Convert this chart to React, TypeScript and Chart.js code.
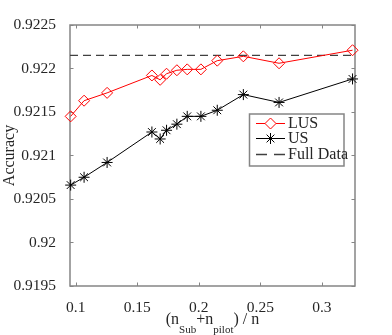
import React, { useEffect, useRef } from 'react';
import { Chart, registerables } from 'chart.js';

Chart.register(...registerables);

const xValues = [0.0959, 0.1068, 0.1255, 0.1619, 0.1686, 0.1738, 0.1822, 0.1906, 0.2017, 0.2150, 0.2362, 0.2652, 0.3249];
const lusValues = [0.92145, 0.92163, 0.92172, 0.92192, 0.92187, 0.92194, 0.92198, 0.92199, 0.92199, 0.92209, 0.92214, 0.92206, 0.92221];
const usValues = [0.92066, 0.92075, 0.92092, 0.92127, 0.92119, 0.92129, 0.92136, 0.92145, 0.92145, 0.92152, 0.9217, 0.92161, 0.92188];
const fullDataValue = 0.92215;
const xTicks = [0.1, 0.15, 0.2, 0.25, 0.3];
const yTicks = [0.9195, 0.92, 0.9205, 0.921, 0.9215, 0.922, 0.9225];
const xRange = [0.09536, 0.3269];
const yRange = [0.9195, 0.9225];
const seriesLabels = ['LUS', 'US', 'Full Data'];
const yTitle = 'Accuracy';

const FONT = "'Liberation Serif', 'Times New Roman', serif";
const AXIS_COLOR = '#858585';
const TEXT_COLOR = '#262626';
const LUS_COLOR = '#ff0000';
const US_COLOR = '#000000';
const FULL_COLOR = '#404040';

function drawDiamond(ctx: CanvasRenderingContext2D, x: number, y: number, r: number) {
  ctx.beginPath();
  ctx.moveTo(x - r, y);
  ctx.lineTo(x, y - r);
  ctx.lineTo(x + r, y);
  ctx.lineTo(x, y + r);
  ctx.closePath();
  ctx.fill();
  ctx.stroke();
}

function drawStar(ctx: CanvasRenderingContext2D, x: number, y: number, r: number) {
  const d = r * Math.SQRT1_2;
  ctx.beginPath();
  ctx.moveTo(x - r, y); ctx.lineTo(x + r, y);
  ctx.moveTo(x, y - r); ctx.lineTo(x, y + r);
  ctx.moveTo(x - d, y - d); ctx.lineTo(x + d, y + d);
  ctx.moveTo(x - d, y + d); ctx.lineTo(x + d, y - d);
  ctx.stroke();
}

const framePlugin = {
  id: 'frame',
  beforeDatasetsDraw(chart: any) {
    const { ctx, chartArea: a, scales } = chart;
    ctx.save();
    ctx.strokeStyle = AXIS_COLOR;
    ctx.lineWidth = 1.5;
    ctx.strokeRect(a.left, a.top, a.right - a.left, a.bottom - a.top);
    ctx.lineWidth = 1;
    const tl = 3.5;
    ctx.beginPath();
    xTicks.forEach((v) => {
      const px = Math.round(scales.x.getPixelForValue(v)) + 0.5;
      ctx.moveTo(px, a.bottom); ctx.lineTo(px, a.bottom - tl);
      ctx.moveTo(px, a.top); ctx.lineTo(px, a.top + tl);
    });
    yTicks.forEach((v) => {
      const py = Math.round(scales.y.getPixelForValue(v)) + 0.5;
      ctx.moveTo(a.left, py); ctx.lineTo(a.left + tl, py);
      ctx.moveTo(a.right, py); ctx.lineTo(a.right - tl, py);
    });
    ctx.stroke();
    ctx.restore();
  },
  afterDraw(chart: any) {
    const { ctx, chartArea: a } = chart;
    ctx.save();
    // x axis title with subscripts
    const mainFont = `16px ${FONT}`;
    const subFont = `11px ${FONT}`;
    const parts: [string, boolean][] = [['(n', false], ['Sub', true], ['+n', false], ['pilot', true], [') / n', false]];
    let total = 0;
    const widths = parts.map(([t, sub]) => {
      ctx.font = sub ? subFont : mainFont;
      const w = ctx.measureText(t).width;
      total += w;
      return w;
    });
    let x = (a.left + a.right) / 2 - total / 2;
    ctx.fillStyle = TEXT_COLOR;
    ctx.textBaseline = 'alphabetic';
    ctx.textAlign = 'left';
    parts.forEach(([t, sub], i) => {
      ctx.font = sub ? subFont : mainFont;
      ctx.fillText(t, x, sub ? 333 : 324);
      x += widths[i];
    });

    // legend
    const bx = 249.5, by = 114, bw = 94.5, bh = 52;
    ctx.fillStyle = '#ffffff';
    ctx.fillRect(bx, by, bw, bh);
    ctx.strokeStyle = AXIS_COLOR;
    ctx.lineWidth = 1.5;
    ctx.strokeRect(bx, by, bw, bh);
    const rows = [123.5, 138.5, 154.5];
    const x0 = 256, x1 = 285, xm = 270.5;
    ctx.lineWidth = 1;
    // LUS
    ctx.strokeStyle = LUS_COLOR;
    ctx.beginPath(); ctx.moveTo(x0, rows[0]); ctx.lineTo(x1, rows[0]); ctx.stroke();
    ctx.fillStyle = '#ffffff';
    drawDiamond(ctx, xm, rows[0], 5.5);
    // US
    ctx.strokeStyle = US_COLOR;
    ctx.beginPath(); ctx.moveTo(x0, rows[1]); ctx.lineTo(x1, rows[1]); ctx.stroke();
    drawStar(ctx, xm, rows[1], 5.5);
    // Full
    ctx.strokeStyle = FULL_COLOR;
    ctx.lineWidth = 1.3;
    ctx.setLineDash([11, 7]);
    ctx.beginPath(); ctx.moveTo(x0, rows[2]); ctx.lineTo(x1, rows[2]); ctx.stroke();
    ctx.setLineDash([]);
    ctx.fillStyle = TEXT_COLOR;
    ctx.font = `16px ${FONT}`;
    ctx.textBaseline = 'middle';
    seriesLabels.forEach((lab, i) => ctx.fillText(lab, 288, rows[i] + 0.5));
    ctx.restore();
  },
};

export default function App() {
  const canvasRef = useRef<HTMLCanvasElement | null>(null);

  useEffect(() => {
    const canvas = canvasRef.current;
    if (!canvas) return;
    const chart = new Chart(canvas, {
      type: 'line',
      data: {
        datasets: [
          {
            label: seriesLabels[0],
            data: xValues.map((x, i) => ({ x, y: lusValues[i] })),
            borderColor: LUS_COLOR,
            borderWidth: 1,
            pointStyle: 'rectRot',
            pointRadius: 5.5,
            pointBorderColor: LUS_COLOR,
            pointBackgroundColor: 'rgba(0,0,0,0)',
            pointBorderWidth: 1,
            tension: 0,
            clip: false,
          } as any,
          {
            label: seriesLabels[1],
            data: xValues.map((x, i) => ({ x, y: usValues[i] })),
            borderColor: US_COLOR,
            borderWidth: 1,
            pointStyle: 'star',
            pointRadius: 5.5,
            pointBorderColor: US_COLOR,
            pointBackgroundColor: 'rgba(0,0,0,0)',
            pointBorderWidth: 1,
            tension: 0,
            clip: false,
          } as any,
          {
            label: seriesLabels[2],
            data: [
              { x: xRange[0], y: fullDataValue },
              { x: xRange[1], y: fullDataValue },
            ],
            borderColor: FULL_COLOR,
            borderWidth: 1.3,
            borderDash: [8, 5],
            pointRadius: 0,
            tension: 0,
          } as any,
        ],
      },
      options: {
        responsive: false,
        animation: false,
        devicePixelRatio: 1,
        layout: { padding: { left: 0, top: 25, right: 37, bottom: 0 } },
        plugins: { legend: { display: false }, tooltip: { enabled: false } },
        scales: {
          x: {
            type: 'linear',
            min: xRange[0],
            max: xRange[1],
            grid: { display: false },
            border: { display: false },
            afterBuildTicks: (s: any) => { s.ticks = xTicks.map((v) => ({ value: v })); },
            afterFit: (s: any) => { s.height = 49; },
            ticks: {
              font: { family: FONT, size: 15.5 },
              color: TEXT_COLOR,
              padding: 5,
              maxRotation: 0,
              autoSkip: false,
              callback: (v: any) => String(+Number(v).toFixed(4)),
            },
          },
          y: {
            type: 'linear',
            min: yRange[0],
            max: yRange[1],
            grid: { display: false },
            border: { display: false },
            afterBuildTicks: (s: any) => { s.ticks = yTicks.map((v) => ({ value: v })); },
            afterFit: (s: any) => { s.width = 70; },
            ticks: {
              font: { family: FONT, size: 15.5 },
              color: TEXT_COLOR,
              padding: 6,
              autoSkip: false,
              callback: (v: any) => String(+Number(v).toFixed(4)),
            },
            title: {
              display: true,
              text: yTitle,
              font: { family: FONT, size: 16 },
              color: TEXT_COLOR,
              padding: { top: 0, bottom: 0 },
            },
          },
        },
      } as any,
      plugins: [framePlugin as any],
    });
    return () => chart.destroy();
  }, []);

  return (
    <div style={{ position: 'absolute', left: 0, top: 0, width: 392, height: 335, background: '#ffffff' }}>
      <canvas ref={canvasRef} width={392} height={335} style={{ display: 'block', width: 392, height: 335 }} />
    </div>
  );
}
